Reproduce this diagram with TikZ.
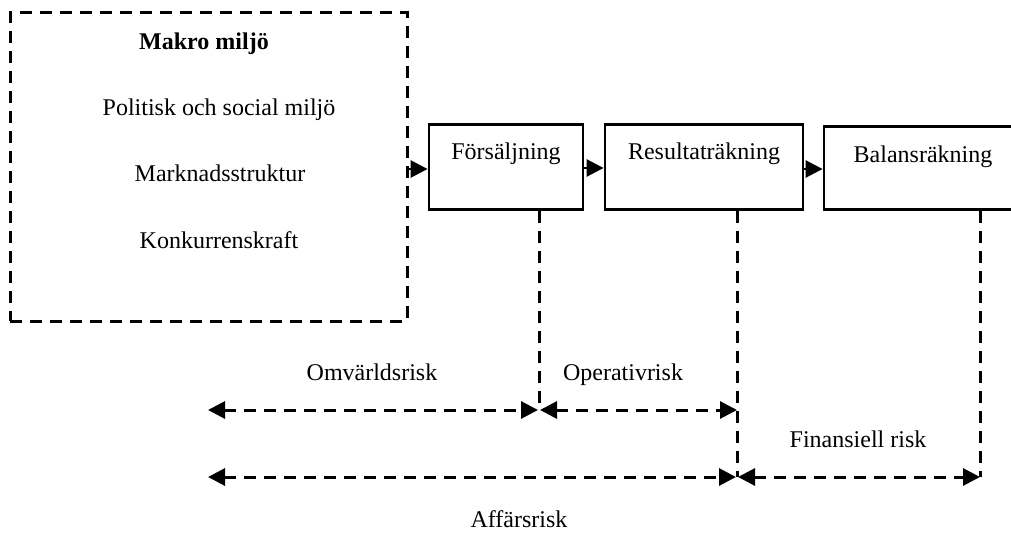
\documentclass[tikz,border=0pt]{standalone}
\usepackage{fontspec}
\setmainfont{Liberation Serif}
\usetikzlibrary{arrows.meta}
\begin{document}
\begin{tikzpicture}[x=1pt,y=-1pt,
  solidbox/.style={draw=black, line width=2.8pt, minimum width=#1, inner sep=0pt, minimum height=85pt},
  dashline/.style={line width=3pt, dash pattern=on 12pt off 8pt},
  txt/.style={font=\fontsize{24}{28}\selectfont, anchor=base, inner sep=0pt},
  arr/.style={-{Triangle[length=17pt,width=17pt]}, line width=2.6pt},
  darr/.style={dashline, {Triangle[length=17pt,width=17pt]}-{Triangle[length=17pt,width=17pt]}}]
\useasboundingbox (0,0) rectangle (1011,537);
% macro box
\node[draw=black, dashline, minimum width=397pt, minimum height=308pt, inner sep=0pt] (macro) at (208.5,167) {};
\node[txt, font=\fontsize{24}{28}\selectfont\bfseries] (t0) at (204,50) {Makro miljö};
\node[txt] (t1) at (219,116) {Politisk och social miljö};
\node[txt] (t2) at (220,182) {Marknadsstruktur};
\node[txt] (t3) at (219,248) {Konkurrenskraft};
% process boxes
\node[solidbox=154pt] (fs) at (506,167) {};
\node[txt] (fst) at (506,160) {Försäljning};
\node[solidbox=198pt] (rr) at (704,167) {};
\node[txt] (rrt) at (704,160) {Resultaträkning};
\node[solidbox=200pt, minimum height=83pt] (br) at (924,168) {};
\node[txt] (brt) at (923,163) {Balansräkning};
% arrows between boxes
\draw[arr] (macro.east |- 0,169) -- (fs.west |- 0,169);
\draw[arr] (fs.east |- 0,168) -- (rr.west |- 0,168);
\draw[arr] (rr.east |- 0,169) -- (br.west |- 0,169);
% coordinates
\coordinate (L1) at (208,410);
\coordinate (M1) at (539,410);
\coordinate (R1) at (737,410);
\coordinate (L2) at (208,477);
\coordinate (M2) at (737,477);
\coordinate (R2) at (980,477);
% vertical dashed lines
\draw[dashline] (fs.south -| M1) -- (M1);
\draw[dashline] (rr.south -| M2) -- (M2);
\draw[dashline] (br.south -| R2) -- (R2);
% horizontal dashed double arrows
\draw[darr] (L1) -- ([xshift=-1pt]M1);
\draw[darr] ([xshift=1pt]M1) -- (R1);
\draw[darr] (L2) -- ([xshift=-1pt]M2);
\draw[darr] ([xshift=1pt]M2) -- (R2);
% labels
\node[txt] (l1) at (372,380) {Omvärldsrisk};
\node[txt] (l2) at (623,380) {Operativrisk};
\node[txt] (l3) at (858,447) {Finansiell risk};
\node[txt] (l4) at (519,527) {Affärsrisk};
\end{tikzpicture}
\end{document}
